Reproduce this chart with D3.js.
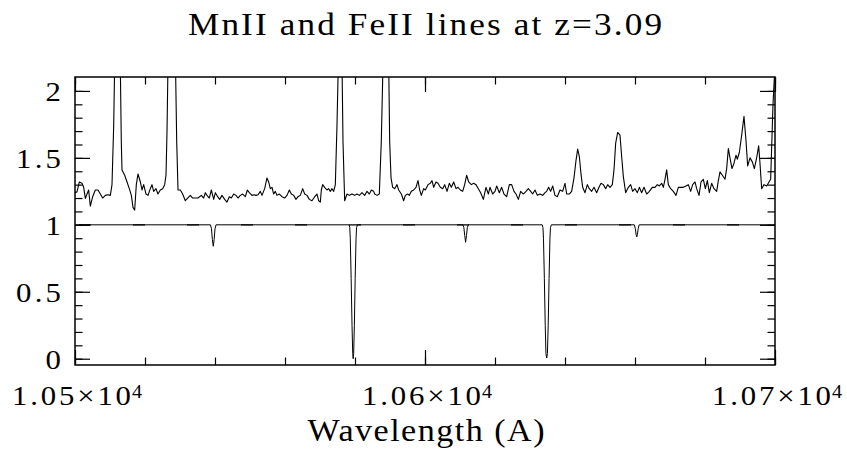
<!DOCTYPE html>
<html><head><meta charset="utf-8">
<script src="https://cdn.jsdelivr.net/npm/d3@7"></script>
<style>body{margin:0;background:#fff}svg{display:block}</style></head>
<body><svg id="c" width="847" height="451"></svg>
<script>
// ---- data ----
const titleText = "MnII and FeII lines at z=3.09";
const xLabelText = "Wavelength (A)";
const xMajorTicks = [10500, 10600, 10700];
const xTickMantissa = ["1.05", "1.06", "1.07"];
const xTickExponent = "4";
const yMajorTicks = [0, 0.5, 1, 1.5, 2];
const yTickLabels = ["0", "0.5", "1", "1.5", "2"];

// observed spectrum: [wavelength (A), normalised flux]
const spectrum = [
[10500.00,1.24],[10500.57,1.246],[10501.24,1.32],[10502.00,1.31],[10502.48,1.28],[10502.95,1.197],
[10503.43,1.23],[10503.90,1.26],[10504.38,1.14],[10505.05,1.21],[10505.81,1.26],[10506.57,1.26],
[10507.24,1.23],[10507.90,1.20],[10508.67,1.22],[10509.43,1.225],[10510.10,1.22],[10510.57,1.30],
[10511.06,1.75],[10511.34,2.2],[10512.14,3.5],[10512.94,2.2],[10513.23,1.62],[10513.43,1.41],
[10514.19,1.37],[10514.86,1.32],[10515.52,1.27],[10516.10,1.22],[10516.57,1.13],[10517.05,1.11],
[10517.52,1.30],[10518.00,1.38],[10518.67,1.32],[10519.14,1.26],[10519.62,1.30],[10520.29,1.23],
[10520.86,1.22],[10521.52,1.27],[10522.00,1.30],[10522.48,1.25],[10523.14,1.27],[10523.71,1.23],
[10524.38,1.26],[10525.05,1.27],[10525.62,1.30],[10526.00,1.37],[10526.29,1.7],[10526.57,2.2],
[10527.71,3.5],[10528.71,2.2],[10529.06,1.62],[10529.43,1.26],[10530.10,1.26],[10530.76,1.23],
[10531.52,1.18],[10532.19,1.20],[10532.95,1.22],[10533.62,1.20],[10534.38,1.20],[10535.14,1.20],
[10536.10,1.22],[10536.76,1.20],[10537.24,1.24],[10537.71,1.22],[10538.38,1.20],[10538.95,1.26],
[10539.62,1.19],[10540.10,1.24],[10540.76,1.21],[10541.33,1.19],[10542.00,1.22],[10542.76,1.19],
[10543.43,1.17],[10544.10,1.21],[10544.67,1.20],[10545.33,1.23],[10546.00,1.22],[10546.57,1.20],
[10547.24,1.22],[10547.90,1.23],[10548.67,1.21],[10549.24,1.26],[10549.81,1.24],[10550.57,1.22],
[10551.14,1.225],[10551.71,1.22],[10552.29,1.225],[10552.95,1.25],[10553.43,1.22],[10554.19,1.27],
[10554.86,1.35],[10555.33,1.32],[10555.81,1.27],[10556.29,1.28],[10556.76,1.23],[10557.24,1.25],
[10557.71,1.22],[10558.38,1.23],[10559.14,1.21],[10559.90,1.20],[10560.57,1.22],[10561.24,1.26],
[10561.81,1.23],[10562.48,1.22],[10563.14,1.19],[10563.71,1.21],[10564.38,1.22],[10565.05,1.27],
[10565.62,1.23],[10566.29,1.22],[10566.95,1.19],[10567.71,1.18],[10568.48,1.21],[10569.14,1.23],
[10569.62,1.18],[10570.10,1.17],[10570.38,1.26],[10570.76,1.30],[10571.33,1.28],[10572.00,1.26],
[10572.48,1.27],[10572.95,1.25],[10573.43,1.27],[10573.90,1.25],[10574.38,1.30],[10574.86,1.75],
[10575.23,2.2],[10575.71,3.0],[10576.29,2.2],[10576.57,1.62],[10577.05,1.18],[10577.71,1.23],
[10578.38,1.22],[10579.14,1.23],[10579.90,1.22],[10580.57,1.23],[10581.24,1.22],[10582.00,1.24],
[10582.76,1.22],[10583.43,1.25],[10584.10,1.23],[10584.67,1.26],[10585.33,1.25],[10585.62,1.23],
[10586.29,1.22],[10586.95,1.23],[10587.51,1.62],[10588.00,2.2],[10588.86,3.5],[10589.63,2.2],
[10589.91,1.62],[10590.29,1.35],[10590.76,1.28],[10591.33,1.27],[10592.00,1.30],[10592.48,1.26],
[10593.24,1.23],[10593.90,1.18],[10594.38,1.22],[10595.05,1.23],[10595.52,1.22],[10596.10,1.25],
[10596.76,1.26],[10597.43,1.28],[10598.00,1.33],[10598.48,1.26],[10598.95,1.22],[10599.62,1.27],
[10600.10,1.26],[10600.86,1.30],[10601.52,1.31],[10602.00,1.33],[10602.48,1.28],[10603.14,1.32],
[10603.71,1.31],[10604.38,1.28],[10605.05,1.27],[10605.62,1.30],[10606.29,1.25],[10606.95,1.31],
[10607.52,1.28],[10608.19,1.32],[10608.86,1.27],[10609.43,1.28],[10610.10,1.26],[10610.76,1.25],
[10611.33,1.30],[10611.90,1.37],[10612.48,1.32],[10613.24,1.30],[10613.90,1.31],[10614.57,1.30],
[10615.24,1.27],[10615.90,1.24],[10616.67,1.19],[10617.43,1.28],[10618.10,1.23],[10618.57,1.28],
[10619.33,1.23],[10620.00,1.25],[10620.48,1.29],[10621.24,1.24],[10621.90,1.28],[10622.57,1.23],
[10623.33,1.21],[10624.10,1.30],[10624.76,1.30],[10625.43,1.25],[10626.00,1.23],[10626.67,1.19],
[10627.33,1.25],[10628.10,1.23],[10628.86,1.25],[10629.52,1.27],[10630.19,1.25],[10630.76,1.23],
[10631.43,1.26],[10632.10,1.22],[10632.86,1.23],[10633.62,1.22],[10634.29,1.24],[10634.76,1.25],
[10635.33,1.28],[10635.90,1.25],[10636.48,1.29],[10637.14,1.22],[10637.81,1.21],[10638.57,1.26],
[10639.33,1.25],[10640.00,1.31],[10640.48,1.23],[10641.24,1.23],[10641.90,1.25],[10642.57,1.35],
[10643.14,1.48],[10643.62,1.565],[10644.10,1.51],[10644.57,1.38],[10645.05,1.28],[10645.71,1.24],
[10646.38,1.30],[10646.95,1.27],[10647.62,1.25],[10648.29,1.28],[10649.05,1.24],[10649.71,1.28],
[10650.29,1.31],[10650.95,1.30],[10651.62,1.27],[10652.19,1.30],[10652.86,1.28],[10653.52,1.30],
[10654.00,1.41],[10654.48,1.61],[10655.05,1.69],[10655.71,1.67],[10656.19,1.51],[10656.67,1.36],
[10657.33,1.24],[10658.10,1.28],[10658.76,1.30],[10659.33,1.25],[10660.00,1.27],[10660.67,1.24],
[10661.24,1.28],[10661.90,1.24],[10662.57,1.28],[10663.33,1.23],[10664.10,1.25],[10664.95,1.28],
[10665.71,1.28],[10666.38,1.30],[10666.95,1.29],[10667.62,1.31],[10668.10,1.28],[10668.57,1.34],
[10669.05,1.41],[10669.52,1.30],[10670.19,1.27],[10670.95,1.25],[10671.71,1.22],[10672.38,1.28],
[10673.05,1.28],[10673.81,1.28],[10674.57,1.29],[10675.24,1.30],[10675.90,1.25],[10676.48,1.30],
[10677.14,1.32],[10677.62,1.27],[10678.29,1.22],[10678.86,1.32],[10679.52,1.34],[10680.10,1.27],
[10680.67,1.33],[10681.24,1.24],[10681.90,1.31],[10682.57,1.27],[10683.33,1.25],[10683.81,1.33],
[10684.29,1.395],[10684.95,1.37],[10685.71,1.34],[10686.19,1.42],[10686.67,1.57],[10687.14,1.50],
[10687.71,1.42],[10688.29,1.46],[10688.86,1.52],[10689.24,1.49],[10689.81,1.54],[10690.48,1.67],
[10691.14,1.81],[10691.71,1.63],[10692.19,1.44],[10692.86,1.50],[10693.52,1.47],[10694.10,1.42],
[10694.76,1.50],[10695.33,1.59],[10695.71,1.46],[10696.19,1.27],[10696.86,1.30],[10697.62,1.29],
[10698.29,1.32],[10698.76,1.34],[10699.43,1.9],[10700.00,2.2]
];

// model absorption profile: [wavelength (A), normalised flux]
const model = [
[10500.0,1],[10538.7,1],[10539.0,0.97],[10539.25,0.89],[10539.5,0.84],[10539.75,0.89],[10540.0,0.97],[10540.3,1],
[10578.3,1],[10578.5,0.98],[10578.65,0.9],[10578.9,0.6],[10579.15,0.25],[10579.35,0.04],[10579.48,0.0],
[10579.62,0.04],[10579.82,0.25],[10580.05,0.6],[10580.3,0.9],[10580.45,0.98],[10580.7,1],
[10610.8,1],[10611.1,0.98],[10611.35,0.92],[10611.6,0.87],[10611.85,0.92],[10612.1,0.98],[10612.4,1],
[10633.5,1],[10633.7,0.98],[10633.85,0.9],[10634.1,0.6],[10634.35,0.25],[10634.55,0.04],[10634.77,0.005],
[10634.98,0.04],[10635.2,0.25],[10635.45,0.6],[10635.7,0.9],[10635.85,0.98],[10636.1,1],
[10659.8,1],[10660.1,0.97],[10660.3,0.93],[10660.5,0.91],[10660.7,0.93],[10660.9,0.97],[10661.2,1],
[10700.0,1]
];

// ---- layout ----
const L = 75, R = 775, T = 77, B = 365;
const font = "'Liberation Serif', 'Times New Roman', serif";

const svg = d3.select("#c");
const x = d3.scaleLinear().domain([10500, 10700]).range([L, R]);
const y = d3.scaleLinear().domain([-0.047, 2.104]).range([B, T]);

svg.append("defs").append("clipPath").attr("id", "clip")
  .append("rect").attr("x", L).attr("y", T).attr("width", R - L).attr("height", B - T);

const line = d3.line().x(d => x(d[0])).y(d => y(d[1]));

// continuum dashes (slightly darker segments along y=1)
svg.append("path")
  .datum([[10500, 1], [10700, 1]])
  .attr("d", line)
  .attr("fill", "none").attr("stroke", "#000").attr("stroke-width", 1.3)
  .attr("stroke-dasharray", "12,42").attr("stroke-dashoffset", -4)
  .attr("clip-path", "url(#clip)");

svg.append("path").datum(model).attr("d", line)
  .attr("fill", "none").attr("stroke", "#000").attr("stroke-width", 1)
  .attr("clip-path", "url(#clip)");

svg.append("path").datum(spectrum).attr("d", line)
  .attr("fill", "none").attr("stroke", "#000").attr("stroke-width", 1.1)
  .attr("stroke-linejoin", "round")
  .attr("clip-path", "url(#clip)");

// ---- axes (inward ticks on all four sides) ----
const xMinor = d3.range(10500, 10700.1, 20);
const yMinor = d3.range(0, 2.05, 0.1).map(v => +v.toFixed(2));

function styleAxis(g) {
  g.select(".domain").remove();
  g.selectAll("line").attr("stroke", "#000").attr("stroke-width", 1.2);
  g.selectAll("text").remove();
}
const axes = [
  [d3.axisBottom(x), `translate(0,${B})`, xMinor, xMajorTicks],
  [d3.axisTop(x), `translate(0,${T})`, xMinor, xMajorTicks],
  [d3.axisLeft(y), `translate(${L},0)`, yMinor, yMajorTicks],
  [d3.axisRight(y), `translate(${R},0)`, yMinor, yMajorTicks]
];
axes.forEach(([ax, tr, minor, major]) => {
  svg.append("g").attr("transform", tr)
    .call(ax.tickValues(minor).tickSize(-7.5).tickFormat(""))
    .call(styleAxis);
  svg.append("g").attr("transform", tr)
    .call(ax.tickValues(major).tickSize(-15).tickFormat(""))
    .call(styleAxis);
});

// frame
svg.append("rect").attr("x", L).attr("y", T).attr("width", R - L).attr("height", B - T)
  .attr("fill", "none").attr("stroke", "#000").attr("stroke-width", 1.5);

// text helper: horizontally widened glyphs + letter spacing to a target width
function label(px, py, str, size, width, anchor, sx) {
  const t = svg.append("g").attr("transform", `translate(${px},${py}) scale(${sx},1)`)
    .append("text")
    .attr("x", 0).attr("y", 0)
    .attr("text-anchor", anchor)
    .attr("font-family", font).attr("font-size", size).attr("fill", "#000")
    .text(str);
  if (width) t.attr("textLength", width / sx).attr("lengthAdjust", "spacing");
  return t;
}

// y tick labels
yMajorTicks.forEach((v, i) => {
  const s = yTickLabels[i];
  label(61, y(v) + 10, s, 27.5, s.length > 1 ? 45 : null, "end", 1.12);
});

// x tick labels  (mantissa × 10^4)
xMajorTicks.forEach((v, i) => {
  const x0 = x(v) - 63;
  label(x0, 405, xTickMantissa[i] + "\u00D710", 27.5, 119, "start", 1.12);
  label(x0 + 120, 398, xTickExponent, 18, null, "start", 1.12);
});

// axis label
label((L + R) / 2 + 1, 441, xLabelText, 31, 237, "middle", 1.1);

// title
label(425, 35, titleText, 32, 474, "middle", 1.1);
</script>
</body></html>
